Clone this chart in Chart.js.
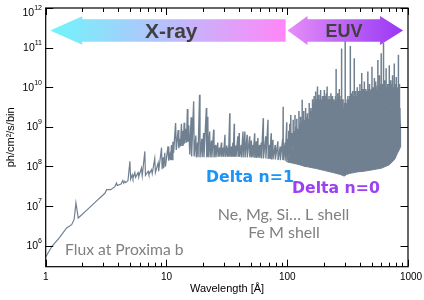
<!DOCTYPE html>
<html>
<head>
<meta charset="utf-8">
<script src="https://cdn.jsdelivr.net/npm/chart.js@4.4.1/dist/chart.umd.min.js"></script>
<style>
  html, body { margin: 0; padding: 0; background: #fff; }
</style>
</head>
<body>
<canvas id="spectrum" width="424" height="300"></canvas>
<script>
// Hard X-ray continuum, 1 - 10 A
const hardWave = [1.00, 1.13, 1.30, 1.49, 1.64, 1.72, 1.78, 1.86, 2.20, 2.60, 3.09, 3.20, 3.45, 3.74, 3.86, 3.92,
  4.20, 4.35, 4.42, 4.52, 4.60, 4.80, 4.98, 5.05, 5.20, 5.28, 5.47, 5.55, 5.82, 5.90, 6.21, 6.30, 6.62, 6.70,
  7.05, 7.15, 7.52, 7.62, 8.00, 8.10, 8.53, 8.62, 9.10, 9.20, 9.37, 9.48, 9.68, 9.80];
const hardFlux = [5.2e5, 9.8e5, 1.6e6, 2.8e6, 3.4e6, 4.6e6, 1.2e7, 5.0e6, 8.0e6, 1.3e7, 2.1e7, 2.6e7, 2.6e7, 3.1e7, 3.8e7, 3.3e7,
  3.6e7, 4.4e7, 3.8e7, 4.2e7, 3.9e7, 4.4e7, 1.35e8, 4.8e7, 6.2e7, 5.0e7, 7.0e7, 5.3e7, 7.0e7, 5.5e7, 9.1e7, 5.8e7, 2.4e8, 6.0e7,
  7.6e7, 6.3e7, 8.3e7, 6.6e7, 1.6e8, 7.0e7, 1.23e8, 7.6e7, 3.0e8, 8.5e7, 1.7e8, 9.0e7, 2.2e8, 1.0e8];

// Soft X-ray lines, 10 - 100 A (peak / valley pairs)
const softWave = [9.80, 10.3, 10.45, 10.7, 10.85, 11.0, 11.15, 11.3, 11.45, 11.9, 12.05, 12.5, 12.65, 12.9, 13.05, 13.3, 13.45,
  13.7, 13.85, 14.0, 14.15, 14.5, 14.65, 14.9, 15.05, 15.3, 15.45, 15.6, 16.0, 16.15, 16.8, 16.95, 17.5, 17.65,
  18.1, 18.25, 18.8, 18.95, 19.6, 19.75, 20.3, 20.45, 21.4, 21.55, 22.0, 22.15, 22.8, 22.95, 23.6, 23.75, 24.6, 24.75,
  25.5, 25.65, 26.6, 26.75, 27.5, 27.65, 28.5, 28.65, 29.5, 29.65, 30.5, 30.65, 31.6, 31.75, 32.5, 32.65, 33.4, 33.55,
  34.5, 34.65, 35.5, 35.65, 36.4, 36.55, 37.5, 37.65, 39.0, 39.15, 40.0, 40.15, 41.5, 41.65, 43.0, 43.15, 44.6, 44.75,
  46.5, 46.65, 48.8, 48.95, 50.4, 50.55, 52.0, 52.15, 53.7, 53.85, 55.4, 55.55, 57.1, 57.25, 59.0, 59.15, 61.0, 61.15,
  63.3, 63.5, 66.4, 66.6, 69.3, 69.5, 71.5, 71.7, 73.6, 73.8, 76.0, 76.2, 79.5, 79.7, 83.7, 83.9, 87.5, 87.7,
  91.7, 91.9, 92.5, 92.7, 96.0, 96.2, 99.0, 99.2];
const softFlux = [1.0e8, 3.2e8, 1.4e8, 2.0e8, 1.45e8, 3.5e8, 1.5e8, 4.2e8, 2.2e8, 1.25e9, 2.6e8, 8.3e8, 2.9e8, 5.0e8, 3.2e8, 1.2e9, 3.4e8,
  8.0e8, 3.6e8, 1.26e9, 3.8e8, 9.0e8, 4.0e8, 2.8e9, 4.2e8, 1.1e9, 4.3e8, 2.0e8, 1.75e9, 1.8e8, 4.4e9, 1.8e8, 6.0e8, 1.7e8,
  4.0e8, 1.7e8, 6.5e9, 1.7e8, 5.0e8, 1.7e8, 7.0e8, 1.7e8, 3.0e9, 1.7e8, 1.8e9, 1.7e8, 7.6e8, 1.7e8, 4.5e8, 1.7e8, 8.5e8, 1.7e8,
  3.5e8, 1.7e8, 4.0e8, 1.75e8, 3.0e8, 1.75e8, 4.0e8, 1.75e8, 3.0e8, 1.75e8, 6.3e8, 1.75e8, 3.4e8, 1.75e8, 3.0e8, 1.75e8, 2.2e9, 1.75e8,
  3.2e8, 1.75e8, 4.0e8, 1.75e8, 1.2e9, 1.75e8, 3.4e8, 1.75e8, 5.8e8, 1.75e8, 7.0e8, 1.75e8, 3.5e8, 1.7e8, 7.6e8, 1.7e8, 7.6e8, 1.7e8,
  6.3e8, 1.7e8, 5.8e8, 1.7e8, 4.5e8, 1.7e8, 3.5e8, 1.7e8, 6.9e8, 1.65e8, 4.3e8, 1.65e8, 5.2e8, 1.65e8, 3.5e8, 1.65e8, 4.0e8, 1.6e8,
  1.66e9, 1.6e8, 5.8e8, 1.6e8, 1.5e9, 1.55e8, 3.5e8, 1.55e8, 6.9e8, 1.5e8, 4.7e8, 1.5e8, 3.5e8, 1.5e8, 4.3e8, 1.45e8, 3.2e8, 1.45e8,
  5.0e8, 1.45e8, 3.2e9, 1.45e8, 4.0e8, 1.4e8, 1.3e9, 1.3e8];

// EUV emission lines, 100 - 870 A: wavelength, peak and foot of each line
const euvLineWave = [101, 103, 105, 107, 109, 112, 114, 116, 118, 120,
  122.5, 125, 127, 129, 131, 133, 135.5, 137, 139.5, 142,
  144.5, 147, 149.5, 152, 154.5, 157, 159.5, 162, 164.5, 167,
  169.5, 172, 175, 178, 180.5, 183, 186, 189, 192.5, 196,
  199.5, 203, 205.5, 208, 211, 214, 218, 222, 226, 230,
  233.5, 237, 240, 243, 245.5, 248, 251, 254, 258, 262,
  266, 270, 273, 276, 279, 282, 286, 290, 293, 296,
  299, 302, 306, 310, 314, 318, 322, 326, 329.5, 333,
  336.5, 340, 344, 348, 353, 359, 363, 368, 374, 380,
  385, 390, 395, 400, 407, 414, 419, 425, 430, 435,
  441, 448, 456, 465, 472, 480, 485, 490, 496, 503,
  509, 515, 521, 527, 533, 540, 546, 552, 557, 563,
  571, 580, 590, 600, 607, 614, 620, 627, 633, 640,
  650, 659, 670, 680, 690, 700, 710, 720, 732, 745,
  757, 770, 785, 800, 815, 833, 842, 850, 858];
const euvLinePeak = [5e8, 8e8, 1.2e9, 2.0e9, 7e8, 1.5e9, 8e8, 2.0e9, 1.0e9, 1.6e9,
  9e8, 2.5e9, 1.2e9, 1.8e9, 1.3e9, 4.8e9, 1.5e9, 2.5e9, 1.5e9, 3.0e9,
  1.8e9, 2.2e9, 1.6e9, 4.0e9, 2.5e9, 3.0e9, 2.5e9, 5.0e9, 4e9, 6e9,
  4e9, 7.8e9, 5e9, 1.05e10, 5e9, 6.5e9, 5e9, 8.5e9, 5e9, 6e9,
  6e9, 8.5e9, 5e9, 6e9, 7e9, 1.05e10, 5e9, 6e9, 5e9, 7e9,
  5.5e9, 6e9, 4.5e9, 5e9, 4e9, 4.5e9, 6e9, 2.9e10, 5e9, 7e9,
  6e9, 9e9, 5e9, 5e9, 6e9, 9.5e10, 4e9, 5e9, 3e9, 3e9,
  4e9, 1.5e11, 3e9, 4e9, 5e9, 6e9, 4e9, 5e9, 6e9, 1.1e11,
  6e9, 7e9, 5e9, 8e9, 6e9, 5.4e10, 7e9, 8e9, 6e9, 1.0e10,
  7e9, 8e9, 6e9, 1.2e10, 8e9, 2.3e10, 7e9, 9e9, 7e9, 1.4e10,
  8e9, 9e9, 8e9, 2.5e10, 9e9, 1.2e10, 7e9, 8e9, 9e9, 3.3e10,
  8e9, 1.0e10, 8e9, 1.7e10, 9e9, 1.4e10, 8e9, 9e9, 1.1e10, 4.9e10,
  1.0e10, 2.0e10, 1.2e10, 7.2e10, 9e9, 1.2e10, 8e9, 1.3e11, 9e9, 1.5e10,
  1.0e10, 3.0e10, 1.0e10, 1.2e10, 9e9, 3.6e10, 1.0e10, 1.5e10, 1.2e10, 2.0e10,
  1.0e10, 4.0e10, 1.2e10, 1.8e10, 1.0e10, 6.6e10, 8e9, 1.2e10, 3e9];
const euvLineFoot = [1.5e8, 1.8e8, 2e8, 2.2e8, 2.4e8, 2.8e8, 3e8, 3.1e8, 3.3e8, 3.5e8,
  3.8e8, 4.2e8, 4.5e8, 4.8e8, 5e8, 5.5e8, 6e8, 6.3e8, 6.8e8, 7e8,
  8e8, 9e8, 1e9, 1.1e9, 1.3e9, 1.5e9, 1.7e9, 2e9, 2.2e9, 2.5e9,
  2.5e9, 2.5e9, 2.5e9, 2.5e9, 2.5e9, 2.5e9, 2.5e9, 2.5e9, 2.5e9, 2.5e9,
  2.5e9, 2.5e9, 2.5e9, 2.5e9, 2.5e9, 2.5e9, 2.5e9, 2.5e9, 2.5e9, 2.5e9,
  2.5e9, 2.5e9, 2.5e9, 2.5e9, 2.5e9, 2.5e9, 2.5e9, 2.5e9, 2.3e9, 2.2e9,
  2.2e9, 2.1e9, 2e9, 2e9, 1.9e9, 1.8e9, 1.4e9, 1.0e9, 9e8, 8e8,
  8e8, 8e8, 9e8, 1.0e9, 1.2e9, 1.3e9, 1.5e9, 1.7e9, 1.9e9, 2e9,
  2.2e9, 2.4e9, 2.5e9, 2.6e9, 2.8e9, 3e9, 3e9, 3e9, 3e9, 3e9,
  3e9, 3e9, 3e9, 3e9, 3e9, 3e9, 3e9, 3e9, 3e9, 3e9,
  3e9, 3e9, 3e9, 3e9, 3e9, 3e9, 3e9, 3e9, 3e9, 3e9,
  3e9, 3e9, 3e9, 3e9, 3e9, 3e9, 3e9, 3e9, 3e9, 3e9,
  3e9, 3e9, 3e9, 3e9, 3e9, 3e9, 3e9, 3e9, 3e9, 3e9,
  3e9, 3e9, 3e9, 3e9, 3e9, 3e9, 3e9, 3e9, 3e9, 3e9,
  2.8e9, 2.6e9, 2.4e9, 2.1e9, 1.8e9, 1.3e9, 1.2e9, 1.0e9, 8e8];

// Dense EUV pseudo-continuum (filled band)
const bandWave = [100, 110, 120, 130, 140, 150, 160, 170, 200, 240, 275, 285, 292, 300, 310, 325, 340, 380, 434, 600, 700, 775, 820, 850, 862, 868];
const bandTop = [1.5e8, 2.6e8, 3.5e8, 5e8, 7e8, 1.0e9, 1.8e9, 2.8e9, 3.2e9, 3.0e9, 2.6e9, 1.6e9, 1.0e9, 8e8, 1.1e9, 1.8e9, 2.6e9, 3.2e9, 3.3e9, 3.4e9, 3.1e9, 2.8e9, 2.6e9, 2.2e9, 1.2e9, 3.2e8];
const bandLow = [1.3e8, 1.22e8, 1.15e8, 1.08e8, 1.0e8, 9.7e7, 9.3e7, 9e7, 8e7, 7e7, 6.3e7, 6e7, 5.8e7, 5.8e7, 6.3e7, 6.6e7, 6.8e7, 7.3e7, 7.6e7, 9e7, 1.1e8, 1.5e8, 2.2e8, 2.7e8, 3.0e8, 3.2e8];

// Axis ticks
const xTicks = [1, 10, 100, 1000];
const xTickLabels = ['1', '10', '100', '1000'];
const xMinorTicks = [2, 3, 4, 5, 6, 7, 8, 9, 20, 30, 40, 50, 60, 70, 80, 90, 200, 300, 400, 500, 600, 700, 800, 900];
const yTicks = [1e6, 1e7, 1e8, 1e9, 1e10, 1e11, 1e12];
const yTickExponents = ['6', '7', '8', '9', '10', '11', '12'];

const lineGrey = 'rgb(112,128,144)';

function pairs(xs, ys) {
  return xs.map((v, i) => ({ x: v, y: ys[i] }));
}

function spectrumLine(xs, ys, w) {
  return {
    data: pairs(xs, ys),
    borderColor: lineGrey,
    borderWidth: w,
    pointRadius: 0,
    tension: 0,
    fill: false
  };
}

// each EUV line is a vertical stroke from its foot to its peak, broken by a gap
function lineStrokes(xs, peaks, feet) {
  const pts = [];
  xs.forEach((v, i) => {
    pts.push({ x: v, y: feet[i] }, { x: v, y: peaks[i] }, { x: v, y: null });
  });
  return pts;
}

function arrow(ctx, x0, x1, yc, head0, head1, shaft, wing, fill) {
  ctx.beginPath();
  if (head0) {
    ctx.moveTo(x0, yc);
    ctx.lineTo(x0 + head0, yc - wing);
    ctx.lineTo(x0 + head0, yc - shaft);
  } else {
    ctx.moveTo(x0, yc - shaft);
  }
  if (head1) {
    ctx.lineTo(x1 - head1, yc - shaft);
    ctx.lineTo(x1 - head1, yc - wing);
    ctx.lineTo(x1, yc);
    ctx.lineTo(x1 - head1, yc + wing);
    ctx.lineTo(x1 - head1, yc + shaft);
  } else {
    ctx.lineTo(x1, yc - shaft);
    ctx.lineTo(x1, yc + shaft);
  }
  if (head0) {
    ctx.lineTo(x0 + head0, yc + shaft);
    ctx.lineTo(x0 + head0, yc + wing);
  } else {
    ctx.lineTo(x0, yc + shaft);
  }
  ctx.closePath();
  ctx.fillStyle = fill;
  ctx.fill();
}

const decor = {
  id: 'decor',
  afterDatasetsDraw(chart) {
    const { ctx, scales: { x, y } } = chart;
    const yc = y.getPixelForValue(2.7e11);

    // X-ray band arrow
    const xa0 = x.getPixelForValue(1.09), xa1 = x.getPixelForValue(97);
    let g = ctx.createLinearGradient(xa0, 0, xa1, 0);
    g.addColorStop(0, '#6ff5fb');
    g.addColorStop(0.45, '#b2c4fb');
    g.addColorStop(1, '#ff86f8');
    arrow(ctx, xa0, xa1, yc, 32, 0, 11.2, 14.3, g);

    // EUV band arrow
    const xe0 = x.getPixelForValue(100.5), xe1 = x.getPixelForValue(910);
    g = ctx.createLinearGradient(xe0, 0, xe1, 0);
    g.addColorStop(0, '#e58ef8');
    g.addColorStop(1, '#9838f5');
    arrow(ctx, xe0, xe1, yc, 20, 23, 11.2, 14.5, g);

    ctx.save();
    ctx.fillStyle = '#404040';
    ctx.textBaseline = 'alphabetic';
    ctx.font = 'bold 21px "Liberation Sans", Arial, sans-serif';
    ctx.textAlign = 'left';
    ctx.fillText('X-ray', 145, 37.5);
    ctx.font = 'bold 18px "Liberation Sans", Arial, sans-serif';
    ctx.textAlign = 'center';
    ctx.fillText('EUV', 344, 36.5);
    ctx.restore();
  },
  afterDraw(chart) {
    const { ctx, chartArea: a, scales: { x, y } } = chart;
    ctx.save();

    // frame and inward ticks
    ctx.strokeStyle = '#000';
    ctx.lineWidth = 1.2;
    ctx.strokeRect(a.left, a.top, a.right - a.left, a.bottom - a.top);
    ctx.lineWidth = 1;
    ctx.beginPath();
    xTicks.forEach(v => {
      const px = Math.round(x.getPixelForValue(v)) + 0.5;
      ctx.moveTo(px, a.bottom); ctx.lineTo(px, a.bottom - 7);
      ctx.moveTo(px, a.top); ctx.lineTo(px, a.top + 7);
    });
    xMinorTicks.forEach(v => {
      const px = Math.round(x.getPixelForValue(v)) + 0.5;
      ctx.moveTo(px, a.bottom); ctx.lineTo(px, a.bottom - 4);
      ctx.moveTo(px, a.top); ctx.lineTo(px, a.top + 4);
    });
    yTicks.forEach(v => {
      const py = Math.round(y.getPixelForValue(v)) + 0.5;
      ctx.moveTo(a.left, py); ctx.lineTo(a.left + 7.5, py);
      ctx.moveTo(a.right, py); ctx.lineTo(a.right - 7.5, py);
    });
    ctx.stroke();

    // tick labels
    ctx.fillStyle = '#000';
    ctx.font = '10px "Liberation Sans", Arial, sans-serif';
    ctx.textAlign = 'center';
    ctx.textBaseline = 'middle';
    xTicks.forEach((v, i) => {
      ctx.fillText(xTickLabels[i], x.getPixelForValue(v) + (i === 3 ? 3 : 0), 277.5);
    });
    yTicks.forEach((v, i) => {
      const py = Math.max(y.getPixelForValue(v) + 0.6, 12.7);
      ctx.font = '7px "Liberation Sans", Arial, sans-serif';
      const ew = ctx.measureText(yTickExponents[i]).width;
      const bx = 42 - ew;
      ctx.textAlign = 'left';
      ctx.textBaseline = 'alphabetic';
      ctx.fillText(yTickExponents[i], bx, py - 3.2);
      ctx.font = '10.5px "Liberation Sans", Arial, sans-serif';
      ctx.textAlign = 'right';
      ctx.textBaseline = 'middle';
      ctx.fillText('10', bx, py);
    });

    // axis titles
    ctx.font = '11px "Liberation Sans", Arial, sans-serif';
    ctx.textAlign = 'center';
    ctx.textBaseline = 'alphabetic';
    ctx.fillText('Wavelength [\u00c5]', 227, 291.5);
    ctx.save();
    ctx.translate(14, (a.top + a.bottom) / 2);
    ctx.rotate(-Math.PI / 2);
    ctx.fillText('ph/cm\u00b2/s/bin', 0, 0);
    ctx.restore();

    // annotations
    ctx.textAlign = 'left';
    ctx.font = 'bold 15.7px "DejaVu Sans", sans-serif';
    ctx.fillStyle = '#1a94f6';
    ctx.fillText('Delta n=1', 206, 181.7);
    ctx.fillStyle = '#9a42f2';
    ctx.fillText('Delta n=0', 292, 192.7);

    ctx.fillStyle = '#808080';
    ctx.font = '15.7px Lato, "Open Sans", sans-serif';
    ctx.fillText('Flux at Proxima b', 65, 255);
    ctx.textAlign = 'center';
    ctx.font = '16px Lato, "Open Sans", sans-serif';
    ctx.fillText('Ne, Mg, Si\u2026 L shell', 283.5, 220);
    ctx.fillText('Fe M shell', 284, 238.3);

    ctx.restore();
  }
};

new Chart(document.getElementById('spectrum'), {
  type: 'line',
  data: {
    datasets: [
      spectrumLine(hardWave, hardFlux, 1.2),
      spectrumLine(softWave, softFlux, 1.35),
      {
        data: lineStrokes(euvLineWave, euvLinePeak, euvLineFoot),
        borderColor: lineGrey,
        borderWidth: 1.5,
        pointRadius: 0,
        spanGaps: false,
        fill: false
      },
      {
        data: pairs(bandWave, bandLow),
        borderColor: lineGrey,
        borderWidth: 1,
        pointRadius: 0,
        fill: false
      },
      {
        data: pairs(bandWave, bandTop),
        borderColor: lineGrey,
        borderWidth: 1,
        backgroundColor: lineGrey,
        pointRadius: 0,
        fill: '-1'
      }
    ]
  },
  options: {
    responsive: false,
    animation: false,
    events: [],
    layout: { padding: { top: 8, right: 16, left: 0, bottom: 0 } },
    plugins: { legend: { display: false }, tooltip: { enabled: false } },
    scales: {
      x: {
        type: 'logarithmic',
        min: 1,
        max: 1000,
        grid: { display: false },
        border: { display: false },
        ticks: { display: false },
        afterFit: s => { s.height = 33.3; }
      },
      y: {
        type: 'logarithmic',
        min: 2.95e5,
        max: 1e12,
        grid: { display: false },
        border: { display: false },
        ticks: { display: false },
        afterBuildTicks: s => { s.ticks = yTicks.map(v => ({ value: v })); },
        afterFit: s => { s.width = 45.7; }
      }
    }
  },
  plugins: [decor]
});
</script>
</body>
</html>
